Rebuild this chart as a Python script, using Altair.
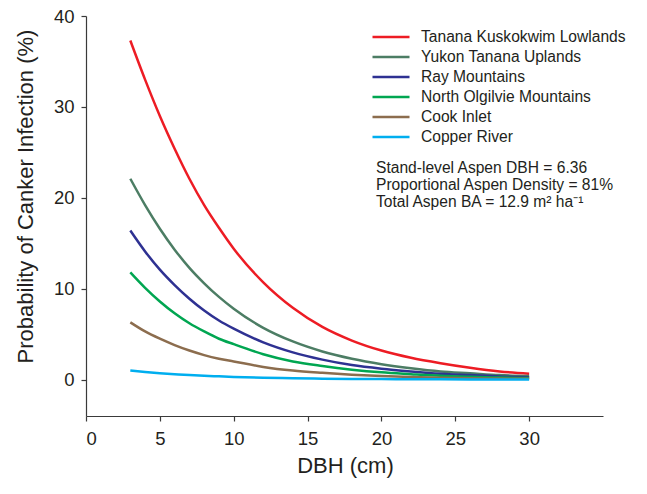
import altair as alt
import pandas as pd

dbh = [3, 4, 5, 6, 7, 8, 9, 10, 12, 14, 16, 18, 20, 22, 24, 26, 28, 30]

regions = [
    "Tanana Kuskokwim Lowlands",
    "Yukon Tanana Uplands",
    "Ray Mountains",
    "North Olgilvie Mountains",
    "Cook Inlet",
    "Copper River",
]
colors = ["#ED1C24", "#4C7D64", "#2E3192", "#00A651", "#8C6D4E", "#00AEEF"]

tanana = [37.3, 33.0, 29.0, 25.4, 22.1, 19.2, 16.7, 14.4, 10.7, 7.9, 5.8, 4.3, 3.2, 2.4, 1.8, 1.3, 0.9, 0.65]
yukon = [22.1, 19.2, 16.6, 14.3, 12.3, 10.6, 9.1, 7.8, 5.7, 4.2, 3.1, 2.3, 1.7, 1.25, 0.9, 0.7, 0.5, 0.4]
ray = [16.4, 14.1, 12.1, 10.4, 8.9, 7.6, 6.5, 5.6, 4.1, 3.0, 2.2, 1.6, 1.2, 0.9, 0.65, 0.5, 0.35, 0.27]
olgilvie = [11.8, 10.1, 8.6, 7.3, 6.2, 5.3, 4.5, 3.9, 2.8, 2.0, 1.5, 1.1, 0.8, 0.6, 0.42, 0.31, 0.23, 0.17]
cook = [6.3, 5.3, 4.5, 3.8, 3.2, 2.7, 2.3, 2.0, 1.4, 1.0, 0.75, 0.55, 0.4, 0.3, 0.22, 0.16, 0.12, 0.09]
copper = [1.0, 0.84, 0.71, 0.60, 0.50, 0.42, 0.36, 0.30, 0.22, 0.16, 0.11, 0.08, 0.06, 0.045, 0.033, 0.024, 0.018, 0.013]

series = [tanana, yukon, ray, olgilvie, cook, copper]

x_ticks = [0, 5, 10, 15, 20, 25, 30]
y_ticks = [0, 10, 20, 30, 40]

annotation = "Stand-level Aspen DBH = 6.36\nProportional Aspen Density = 81%\nTotal Aspen BA = 12.9 m\u00b2 ha\u207b\u00b9"

rows = []
for i, (name, vals) in enumerate(zip(regions, series)):
    for x, v in zip(dbh, vals):
        rows.append({"DBH": x, "Region": name, "P": v, "k": i})
df = pd.DataFrame(rows)

FONT = "Liberation Sans"
TXT = "#231F20"

lines = alt.Chart(df).mark_line(strokeWidth=2.5, interpolate="monotone").encode(
    x=alt.X(
        "DBH:Q",
        scale=alt.Scale(domain=[0, 35], nice=False, zero=False),
        axis=alt.Axis(
            values=x_ticks,
            title="DBH (cm)",
            titleX=259,
            titleY=49,
            titleBaseline="middle",
            titleAlign="center",
            labelPadding=8,
        ),
    ),
    y=alt.Y(
        "P:Q",
        scale=alt.Scale(domain=[-4, 40], nice=False, zero=False),
        axis=alt.Axis(
            values=y_ticks,
            title="Probability of Canker Infection (%)",
            titleX=-61,
            titleY=180,
            titleAngle=-90,
            titleBaseline="middle",
            titleAlign="center",
            labelPadding=7,
        ),
    ),
    color=alt.Color(
        "Region:N",
        scale=alt.Scale(domain=regions, range=colors),
        legend=alt.Legend(
            title=None,
            orient="none",
            legendX=285,
            legendY=11,
            symbolType="stroke",
            symbolSize=1369,
            symbolStrokeWidth=2.5,
            labelFont=FONT,
            labelFontSize=15.6,
            labelColor=TXT,
            labelOffset=10,
            labelLimit=400,
            clipHeight=20,
            rowPadding=0,
            padding=0,
        ),
    ),
    order=alt.Order("k:Q"),
)

note = alt.Chart(pd.DataFrame({"t": [annotation]})).mark_text(
    align="left",
    baseline="top",
    lineBreak="\n",
    lineHeight=17,
    font=FONT,
    fontSize=15.6,
    color=TXT,
).encode(text="t:N", x=alt.value(290), y=alt.value(145))

chart = (
    alt.layer(lines, note)
    .properties(
        width=517,
        height=400,
        autosize=alt.AutoSizeParams(type="none"),
        padding={"left": 86, "top": 16, "right": 44, "bottom": 78},
        background="white",
    )
    .configure_view(stroke=None)
    .configure_axis(
        grid=False,
        domainColor="#3A3A3A",
        domainWidth=1.2,
        tickColor="#3A3A3A",
        tickWidth=1.2,
        tickSize=5,
        labelFont=FONT,
        labelFontSize=18.5,
        labelColor=TXT,
        titleFont=FONT,
        titleFontSize=22,
        titleFontWeight="normal",
        titleColor=TXT,
    )
)

chart.save("out.html", embed_options={"renderer": "svg", "actions": False})
